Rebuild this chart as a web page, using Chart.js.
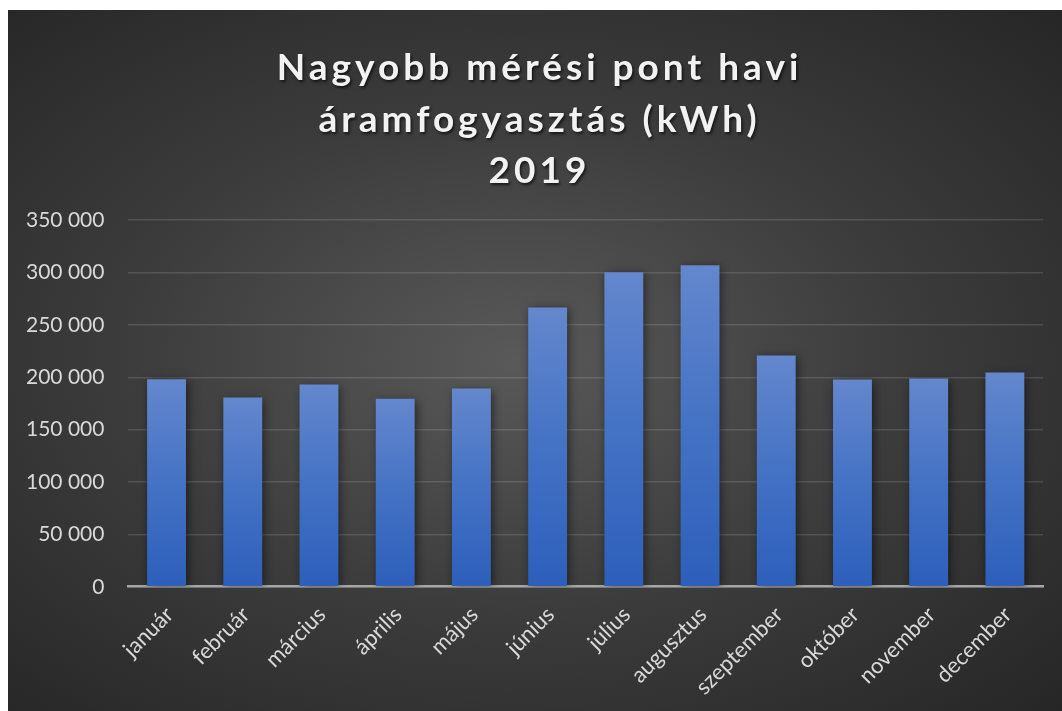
<!DOCTYPE html>
<html>
<head>
<meta charset="utf-8">
<script src="https://cdn.jsdelivr.net/npm/chart.js@4/dist/chart.umd.min.js"></script>
<style>
  html, body { margin: 0; padding: 0; background: #ffffff; }
  #wrap {
    position: absolute; left: 8px; top: 10px; width: 1054px; height: 701px;
    background: radial-gradient(farthest-corner at 48% 50%, #595959 0%, #3c3c3c 50%, #262626 100%);
  }
</style>
</head>
<body>
<div id="wrap"><canvas id="c"></canvas></div>
<script>
const titleLines = ["Nagyobb mérési pont havi", "áramfogyasztás (kWh)", "2019"];
const months = ["január", "február", "március", "április", "május", "június",
                "július", "augusztus", "szeptember", "október", "november", "december"];
const consumption = [198000, 180600, 193000, 179600, 189200, 266700,
                     300200, 306900, 220800, 197800, 198800, 204500];
const yMin = 0, yMax = 350000, yStep = 50000;

function fmt(v) { return String(v).replace(/\B(?=(\d{3})+(?!\d))/g, ' '); }

const effects = {
  id: 'effects',
  beforeDraw(chart) {
    const tb = chart.titleBlock;
    if (tb && !tb._patched) {
      const orig = tb.draw.bind(tb);
      tb.draw = function () {
        const ctx = chart.ctx;
        ctx.save();
        ctx.translate(531.5 - (tb.left + tb.right) / 2, 0);
        ctx.letterSpacing = '4px';
        ctx.shadowColor = 'rgba(0,0,0,0.65)';
        ctx.shadowBlur = 3;
        ctx.shadowOffsetX = 1.5;
        ctx.shadowOffsetY = 2;
        orig();
        ctx.restore();
      };
      tb._patched = true;
    }
  },
  beforeDatasetsDraw(chart) {
    const ctx = chart.ctx;
    ctx.save();
    ctx.shadowColor = 'rgba(0,0,0,0.55)';
    ctx.shadowBlur = 9;
    ctx.shadowOffsetX = 2;
    ctx.shadowOffsetY = 2;
    chart.getDatasetMeta(0).data.forEach(el => {
      const g = ctx.createLinearGradient(0, el.y, 0, el.base);
      g.addColorStop(0, '#6487cd');
      g.addColorStop(0.5, '#4472c4');
      g.addColorStop(1, '#2d5fbb');
      el.options.backgroundColor = g;
    });
  },
  afterDatasetsDraw(chart) {
    chart.ctx.restore();
  }
};

new Chart(document.getElementById('c'), {
  type: 'bar',
  data: {
    labels: months,
    datasets: [{
      label: 'kWh',
      data: consumption,
      backgroundColor: () => '#4472c4',
      borderWidth: 0,
      barPercentage: 0.51,
      categoryPercentage: 1.0
    }]
  },
  options: {
    responsive: true,
    maintainAspectRatio: false,
    animation: false,
    layout: { padding: { left: 18, right: 19, top: 0, bottom: 0 } },
    plugins: {
      legend: { display: false },
      tooltip: { enabled: false },
      title: {
        display: true,
        text: titleLines,
        color: '#f2f2f2',
        font: { family: 'Lato', size: 37, weight: 'bold', lineHeight: 1.38 },
        padding: { top: 33, bottom: 24 }
      }
    },
    scales: {
      x: {
        grid: { display: false, drawTicks: false },
        border: { display: true, color: '#a6a6a6', width: 2.5 },
        ticks: {
          color: '#d9d9d9',
          font: { family: 'Lato', size: 22 },
          minRotation: 45, maxRotation: 45,
          labelOffset: 3,
          padding: 15
        },
        afterFit(scale) {
          scale.paddingLeft = 0;
          scale.height -= 4;
        }
      },
      y: {
        min: yMin, max: yMax,
        grid: { color: 'rgba(255,255,255,0.13)', lineWidth: 1.5, drawTicks: false },
        border: { display: false },
        ticks: {
          stepSize: yStep,
          color: '#d9d9d9',
          font: { family: 'Lato', size: 21 },
          padding: 24,
          callback: v => fmt(v)
        },
        afterFit(scale) {
          scale.width -= 24;
        }
      }
    }
  },
  plugins: [effects]
});
</script>
</body>
</html>
